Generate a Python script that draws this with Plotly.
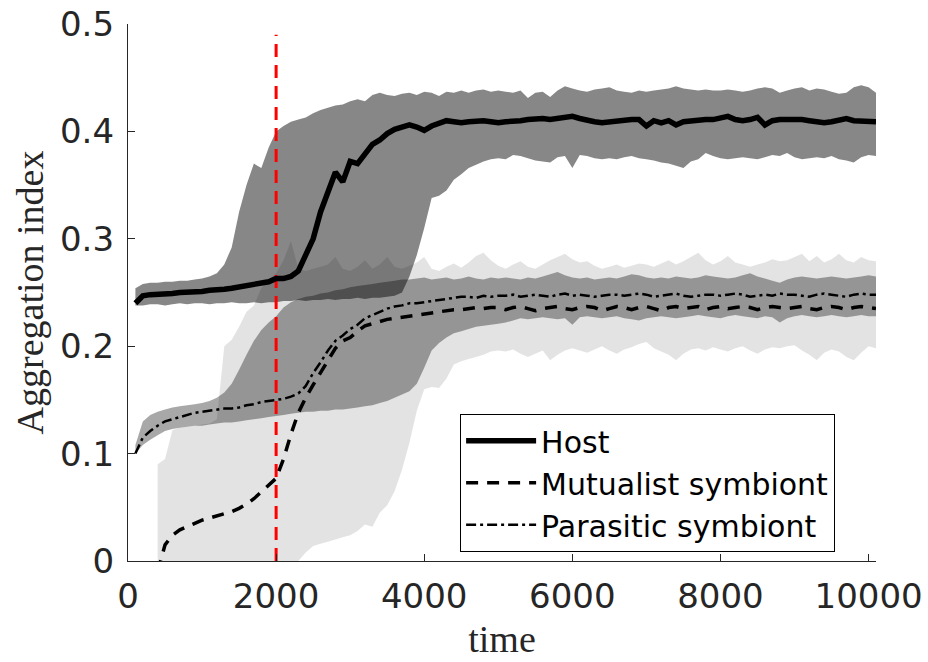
import plotly.graph_objects as go

# ---------------- data ----------------
time = [100 * (i + 1) for i in range(101)]  # 100 ... 10100

host_mean = [
    0.240, 0.247, 0.248, 0.248, 0.249, 0.249, 0.250, 0.250, 0.251, 0.251,
    0.252, 0.252, 0.253, 0.254, 0.255, 0.256, 0.257, 0.258, 0.260, 0.263,
    0.263, 0.265, 0.270, 0.285, 0.300, 0.325, 0.345, 0.362, 0.353, 0.372,
    0.370, 0.380, 0.388, 0.392, 0.398, 0.402, 0.404, 0.406, 0.404, 0.401,
    0.405, 0.407, 0.410, 0.409, 0.408, 0.409, 0.410, 0.410, 0.409, 0.408,
    0.409, 0.409, 0.410, 0.411, 0.412, 0.412, 0.411, 0.412, 0.414, 0.414,
    0.412, 0.410, 0.409, 0.408, 0.409, 0.410, 0.410, 0.411, 0.411, 0.405,
    0.410, 0.408, 0.410, 0.406, 0.409, 0.410, 0.410, 0.411, 0.411, 0.412,
    0.414, 0.411, 0.410, 0.411, 0.413, 0.406, 0.410, 0.411, 0.411, 0.412,
    0.411, 0.410, 0.409, 0.408, 0.409, 0.410, 0.412, 0.410, 0.410, 0.410,
    0.409,
]
host_upper = [
    0.254, 0.258, 0.259, 0.259, 0.260, 0.260, 0.261, 0.261, 0.262, 0.263,
    0.265, 0.268, 0.276, 0.292, 0.325, 0.350, 0.370, 0.366, 0.385, 0.400,
    0.405, 0.409, 0.411, 0.413, 0.417, 0.420, 0.422, 0.424, 0.425, 0.428,
    0.430, 0.428, 0.434, 0.436, 0.434, 0.433, 0.435, 0.436, 0.434, 0.437,
    0.436, 0.433, 0.437, 0.436, 0.438, 0.436, 0.438, 0.439, 0.437, 0.438,
    0.437, 0.436, 0.438, 0.431, 0.436, 0.437, 0.432, 0.438, 0.442, 0.440,
    0.438, 0.437, 0.439, 0.440, 0.441, 0.438, 0.437, 0.436, 0.438, 0.437,
    0.438, 0.439, 0.440, 0.442, 0.440, 0.439, 0.438, 0.439, 0.438, 0.438,
    0.439, 0.438, 0.437, 0.438, 0.440, 0.441, 0.440, 0.436, 0.438, 0.440,
    0.441, 0.438, 0.440, 0.439, 0.437, 0.435, 0.436, 0.441, 0.443, 0.441,
    0.436,
]
host_lower = [
    0.238, 0.238, 0.239, 0.239, 0.238, 0.239, 0.240, 0.239, 0.240, 0.240,
    0.239, 0.240, 0.240, 0.241, 0.240, 0.240, 0.241, 0.240, 0.241, 0.241,
    0.242, 0.242, 0.243, 0.242, 0.243, 0.243, 0.244, 0.243, 0.244, 0.244,
    0.245, 0.244, 0.245, 0.245, 0.246, 0.247, 0.250, 0.265, 0.285, 0.310,
    0.338, 0.340, 0.345, 0.355, 0.360, 0.366, 0.369, 0.372, 0.374, 0.375,
    0.374, 0.378, 0.377, 0.375, 0.373, 0.372, 0.371, 0.376, 0.377, 0.366,
    0.378, 0.377, 0.375, 0.374, 0.375, 0.374, 0.376, 0.377, 0.375, 0.374,
    0.373, 0.371, 0.370, 0.368, 0.366, 0.372, 0.374, 0.380, 0.377, 0.375,
    0.374, 0.375, 0.376, 0.375, 0.374, 0.376, 0.378, 0.377, 0.380, 0.376,
    0.374, 0.375, 0.376, 0.375, 0.377, 0.374, 0.373, 0.371, 0.376, 0.378,
    0.377,
]

para_mean = [
    0.100, 0.115, 0.121, 0.126, 0.130, 0.132, 0.134, 0.136, 0.138, 0.139,
    0.140, 0.141, 0.142, 0.142, 0.143, 0.145, 0.146, 0.148, 0.149, 0.150,
    0.151, 0.153, 0.156, 0.163, 0.175, 0.185, 0.196, 0.205, 0.210, 0.216,
    0.220, 0.226, 0.229, 0.232, 0.235, 0.237, 0.238, 0.240, 0.240, 0.241,
    0.242, 0.243, 0.244, 0.245, 0.246, 0.246, 0.245, 0.247, 0.246, 0.247,
    0.247, 0.248, 0.246, 0.247, 0.248, 0.247, 0.246, 0.248, 0.249, 0.247,
    0.248, 0.247, 0.246, 0.247, 0.248, 0.248, 0.247, 0.248, 0.249, 0.248,
    0.246, 0.247, 0.248, 0.249, 0.247, 0.246, 0.247, 0.248, 0.248, 0.247,
    0.248, 0.249, 0.248, 0.246, 0.247, 0.248, 0.247, 0.249, 0.248, 0.248,
    0.247, 0.246, 0.248, 0.249, 0.248, 0.247, 0.246, 0.248, 0.249, 0.248,
    0.248,
]
para_upper = [
    0.108, 0.130, 0.136, 0.139, 0.141, 0.143, 0.144, 0.145, 0.146, 0.147,
    0.149, 0.152, 0.157, 0.165, 0.178, 0.192, 0.205, 0.215, 0.222, 0.228,
    0.236, 0.241, 0.244, 0.246, 0.247, 0.249, 0.250, 0.252, 0.253, 0.255,
    0.256, 0.257, 0.258, 0.259, 0.260, 0.261, 0.262, 0.262, 0.263, 0.264,
    0.262, 0.263, 0.264, 0.262, 0.263, 0.265, 0.263, 0.262, 0.264, 0.263,
    0.264, 0.263, 0.262, 0.264, 0.263, 0.265, 0.267, 0.269, 0.266, 0.264,
    0.263, 0.264, 0.262, 0.263, 0.264, 0.263, 0.265, 0.267, 0.266, 0.264,
    0.263, 0.264, 0.263, 0.265, 0.264, 0.263, 0.264, 0.266, 0.265, 0.264,
    0.263, 0.264, 0.266, 0.268, 0.265, 0.263, 0.261, 0.259, 0.262, 0.264,
    0.265, 0.264, 0.263, 0.264, 0.265, 0.264, 0.263, 0.264, 0.265, 0.266,
    0.265,
]
para_lower = [
    0.100, 0.108, 0.113, 0.117, 0.121, 0.123, 0.124, 0.125, 0.126, 0.126,
    0.127, 0.128, 0.129, 0.129, 0.130, 0.131, 0.132, 0.133, 0.134, 0.135,
    0.136, 0.137, 0.138, 0.139, 0.139, 0.140, 0.140, 0.141, 0.141, 0.142,
    0.143, 0.144, 0.145, 0.147, 0.149, 0.152, 0.155, 0.158, 0.165, 0.180,
    0.196, 0.203, 0.208, 0.212, 0.214, 0.216, 0.218, 0.219, 0.220, 0.221,
    0.222, 0.224, 0.226, 0.225, 0.226, 0.227, 0.226, 0.225, 0.226, 0.220,
    0.227, 0.228, 0.227, 0.226, 0.227, 0.228, 0.226, 0.225, 0.224, 0.226,
    0.227, 0.228, 0.227, 0.226, 0.227, 0.228, 0.229, 0.228, 0.227, 0.226,
    0.228, 0.229, 0.228, 0.227, 0.226, 0.228, 0.227, 0.222, 0.226, 0.228,
    0.229, 0.228, 0.227, 0.228, 0.229, 0.228, 0.227, 0.228, 0.229, 0.228,
    0.228,
]

mutu_mean = [
    None, None, None, -0.010, 0.015, 0.024, 0.029, 0.032, 0.035, 0.038,
    0.040, 0.042, 0.044, 0.046, 0.049, 0.053, 0.058, 0.064, 0.070, 0.077,
    0.095, 0.118, 0.138, 0.152, 0.164, 0.175, 0.186, 0.198, 0.205, 0.208,
    0.214, 0.219, 0.221, 0.223, 0.225, 0.226, 0.227, 0.228, 0.229, 0.230,
    0.231, 0.232, 0.233, 0.234, 0.234, 0.235, 0.236, 0.235, 0.236, 0.236,
    0.234, 0.236, 0.237, 0.235, 0.233, 0.235, 0.236, 0.237, 0.235, 0.234,
    0.236, 0.237, 0.236, 0.233, 0.235, 0.237, 0.236, 0.234, 0.236, 0.237,
    0.235, 0.233, 0.236, 0.237, 0.235, 0.236, 0.237, 0.234, 0.236, 0.237,
    0.235, 0.236, 0.237, 0.236, 0.234, 0.236, 0.237, 0.236, 0.235, 0.236,
    0.237, 0.235, 0.234, 0.236, 0.237, 0.236, 0.234, 0.236, 0.237, 0.236,
    0.235,
]
mutu_upper = [
    None, None, None, 0.090, 0.095, 0.122, 0.124, 0.125, 0.126, 0.127,
    0.128, 0.132, 0.200, 0.206, 0.218, 0.232, 0.238, 0.254, 0.262, 0.268,
    0.280, 0.298, 0.272, 0.270, 0.272, 0.274, 0.276, 0.283, 0.272, 0.270,
    0.274, 0.280, 0.272, 0.276, 0.283, 0.274, 0.272, 0.275, 0.278, 0.283,
    0.272, 0.270, 0.274, 0.277, 0.273, 0.278, 0.284, 0.287, 0.280, 0.275,
    0.272, 0.276, 0.279, 0.274, 0.272, 0.276, 0.280, 0.283, 0.286, 0.281,
    0.278, 0.279, 0.275, 0.272, 0.274, 0.276, 0.273, 0.275, 0.277, 0.276,
    0.274, 0.277, 0.280, 0.276, 0.279, 0.283, 0.287, 0.280, 0.276, 0.279,
    0.284, 0.278, 0.276, 0.274, 0.276, 0.278, 0.281, 0.279, 0.280, 0.283,
    0.286, 0.279, 0.284, 0.278, 0.281, 0.286, 0.280, 0.278, 0.283, 0.280,
    0.279,
]
mutu_lower = [
    None, None, None, 0.000, 0.000, 0.000, 0.000, 0.000, 0.000, 0.000,
    0.000, 0.000, 0.000, 0.000, 0.000, 0.000, 0.000, 0.000, 0.000, 0.000,
    0.000, 0.000, 0.000, 0.008, 0.014, 0.016, 0.018, 0.020, 0.022, 0.024,
    0.028, 0.034, 0.032, 0.045, 0.052, 0.065, 0.085, 0.110, 0.140, 0.160,
    0.162, 0.161, 0.170, 0.183, 0.186, 0.188, 0.190, 0.192, 0.195, 0.196,
    0.195, 0.197, 0.193, 0.190, 0.193, 0.196, 0.187, 0.192, 0.196, 0.198,
    0.196, 0.194, 0.197, 0.200, 0.196, 0.193, 0.197, 0.199, 0.202, 0.204,
    0.198, 0.195, 0.192, 0.187, 0.193, 0.197, 0.198, 0.196, 0.199, 0.197,
    0.195, 0.198, 0.200, 0.196, 0.193, 0.197, 0.199, 0.198, 0.200, 0.201,
    0.196, 0.192, 0.187, 0.194, 0.197, 0.195, 0.190, 0.187, 0.194, 0.200,
    0.198,
]

switch_time = [2000, 2000]
switch_level = [0.0, 0.49]

x_ticks = [0, 2000, 4000, 6000, 8000, 10000]
x_labels = ["0", "2000", "4000", "6000", "8000", "10000"]
y_ticks = [0, 0.1, 0.2, 0.3, 0.4, 0.5]
y_labels = ["0", "0.1", "0.2", "0.3", "0.4", "0.5"]

# ---------------- figure ----------------
def band(t, up, lo):
    idx = [i for i in range(len(t)) if up[i] is not None and lo[i] is not None]
    xs = [t[i] for i in idx] + [t[i] for i in reversed(idx)]
    ys = [up[i] for i in idx] + [lo[i] for i in reversed(idx)]
    return xs, ys

fig = go.Figure()

for up, lo, alpha in [
    (host_upper, host_lower, 0.47),
    (mutu_upper, mutu_lower, 0.11),
    (para_upper, para_lower, 0.34),
]:
    bx, by = band(time, up, lo)
    fig.add_trace(go.Scatter(
        x=bx, y=by, fill="toself", mode="none",
        fillcolor=f"rgba(0,0,0,{alpha})", showlegend=False, hoverinfo="skip",
    ))

fig.add_trace(go.Scatter(
    x=switch_time, y=switch_level, mode="lines",
    line=dict(color="#ff0000", width=3, dash="13px,8px"),
    showlegend=False,
))

fig.add_trace(go.Scatter(
    x=time, y=host_mean, mode="lines", name="Host",
    line=dict(color="black", width=5.5),
))
fig.add_trace(go.Scatter(
    x=time, y=mutu_mean, mode="lines", name="Mutualist symbiont",
    line=dict(color="black", width=3.5, dash="12px,9px"),
))
fig.add_trace(go.Scatter(
    x=time, y=para_mean, mode="lines", name="Parasitic symbiont",
    line=dict(color="black", width=2.5, dash="10px,4px,3px,4px"),
))

axis_color = "#262626"
tick_font = dict(family="DejaVu Sans", size=34, color=axis_color)
title_font = dict(family="Liberation Serif", size=38, color=axis_color)

fig.update_layout(
    width=928, height=662,
    margin=dict(l=128, r=52, t=24, b=101),
    paper_bgcolor="white", plot_bgcolor="white",
    showlegend=True,
    legend=dict(
        x=0.444, y=0.274, xanchor="left", yanchor="top",
        bgcolor="white", bordercolor="black", borderwidth=1,
        font=dict(family="DejaVu Sans", size=30, color="black"),
        itemwidth=70, tracegroupgap=0,
    ),
    xaxis=dict(
        range=[0, 10100], tickvals=x_ticks, ticktext=x_labels,
        showgrid=False, zeroline=False, showline=True,
        linecolor=axis_color, linewidth=1.3,
        ticks="inside", ticklen=7, tickcolor=axis_color, tickwidth=1.3,
        tickfont=tick_font, automargin=False, ticklabelstandoff=5,
        title=dict(text="time", font=title_font, standoff=10),
    ),
    yaxis=dict(
        range=[0, 0.5], tickvals=y_ticks, ticktext=y_labels,
        showgrid=False, zeroline=False, showline=True,
        linecolor=axis_color, linewidth=1.3,
        ticks="inside", ticklen=7, tickcolor=axis_color, tickwidth=1.3,
        tickfont=tick_font, automargin=False, ticklabelstandoff=6,
        title=dict(text="Aggregation index", font=title_font, standoff=4),
    ),
)

fig.write_html("out.html")
